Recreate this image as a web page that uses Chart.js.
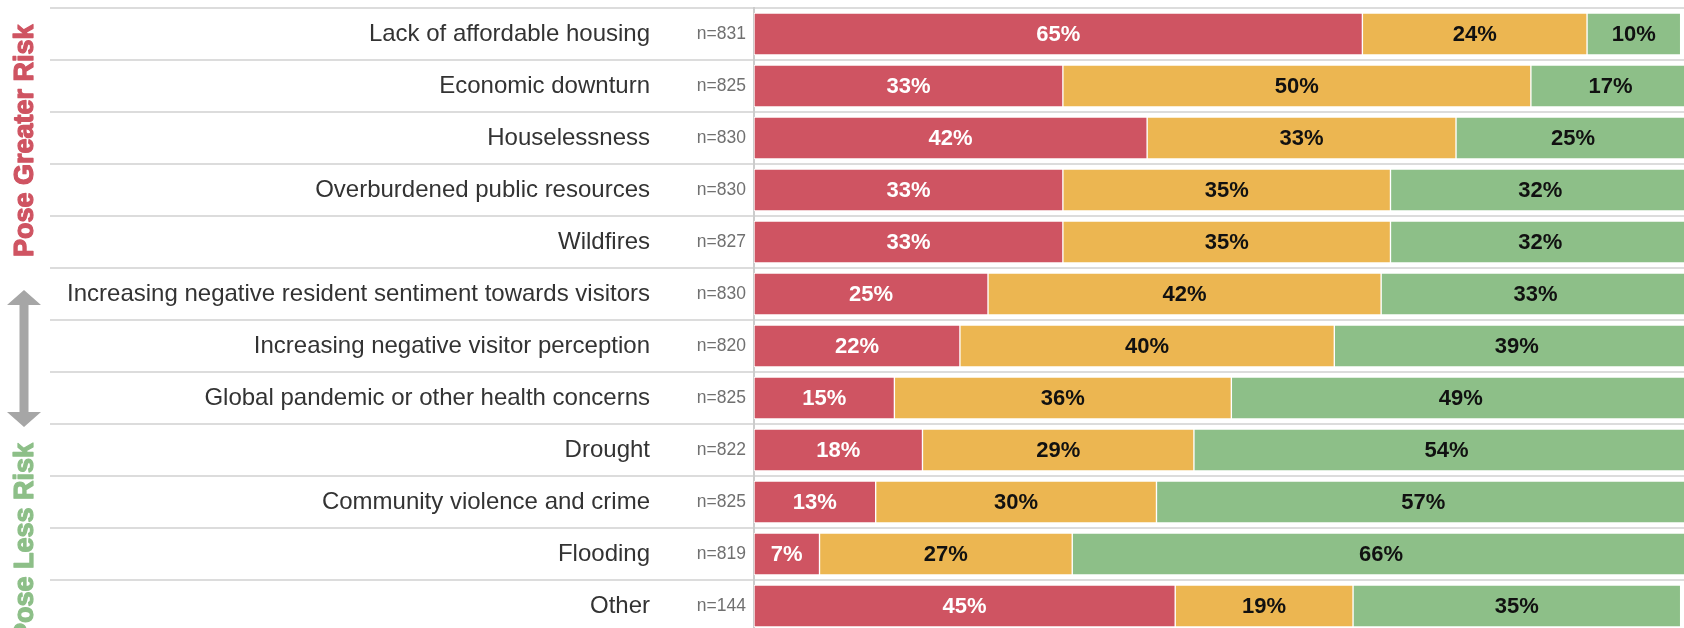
<!DOCTYPE html>
<html lang="en">
<head>
  <meta charset="UTF-8">
  <title>Perceived risks</title>
  <script src="https://cdn.jsdelivr.net/npm/chart.js"></script>
  <style>
    html, body { margin: 0; padding: 0; background: #fff; overflow: hidden; }
    .wrap { position: relative; width: 1690px; height: 632px; }
  </style>
</head>
<body>
  <div class="wrap"><canvas id="riskChart"></canvas></div>

  <script>
    // DATA
    const categories = [
      'Lack of affordable housing',
      'Economic downturn',
      'Houselessness',
      'Overburdened public resources',
      'Wildfires',
      'Increasing negative resident sentiment towards visitors',
      'Increasing negative visitor perception',
      'Global pandemic or other health concerns',
      'Drought',
      'Community violence and crime',
      'Flooding',
      'Other'
    ];
    const sampleSizes = ['n=831','n=825','n=830','n=830','n=827','n=830','n=820','n=825','n=822','n=825','n=819','n=144'];
    const greaterRisk = [65, 33, 42, 33, 33, 25, 22, 15, 18, 13, 7, 45];
    const neutral     = [24, 50, 33, 35, 35, 42, 40, 36, 29, 30, 27, 19];
    const lessRisk    = [10, 17, 25, 32, 32, 33, 39, 49, 54, 57, 66, 35];

    const RED = '#cf5462', YELLOW = '#ecb651', GREEN = '#8dbf88';
    const FONT = '"Liberation Sans", Arial, sans-serif';

    // row separators, drawn under the axis line
    const rowLines = {
      id: 'rowLines',
      beforeDraw(chart) {
        const y = chart.scales.y, ctx = chart.ctx;
        const step = y.getPixelForValue(1) - y.getPixelForValue(0);
        ctx.save();
        ctx.strokeStyle = '#dcdcdc';
        ctx.lineWidth = 2;
        for (let i = 0; i <= categories.length; i++) {
          const py = Math.round(y.getPixelForValue(i) - step / 2);
          ctx.beginPath();
          ctx.moveTo(50, py);
          ctx.lineTo(chart.chartArea.right, py);
          ctx.stroke();
        }
        ctx.restore();
      }
    };

    // percent labels in the middle of each segment
    const segmentLabels = {
      id: 'segmentLabels',
      afterDatasetsDraw(chart) {
        const ctx = chart.ctx;
        ctx.save();
        ctx.font = 'bold 22px ' + FONT;
        ctx.textAlign = 'center';
        ctx.textBaseline = 'middle';
        chart.data.datasets.forEach((ds, i) => {
          ctx.fillStyle = i === 0 ? '#ffffff' : '#111111';
          chart.getDatasetMeta(i).data.forEach((bar, j) => {
            const { x, base, y } = bar.getProps(['x', 'base', 'y'], true);
            ctx.fillText(ds.data[j] + '%', (x + base) / 2, y + 1);
          });
        });
        ctx.restore();
      }
    };

    // side note: greater / less risk with a double arrow
    const sideNote = {
      id: 'sideNote',
      afterDraw(chart) {
        const ctx = chart.ctx;
        ctx.save();
        ctx.font = 'bold 27px ' + FONT;
        ctx.textBaseline = 'alphabetic';
        ctx.lineWidth = 1.2;
        ctx.lineJoin = 'round';

        ctx.save();
        ctx.translate(33, 257);
        ctx.rotate(-Math.PI / 2);
        ctx.textAlign = 'left';
        ctx.fillStyle = ctx.strokeStyle = RED;
        ctx.fillText('Pose Greater Risk', 0, 0);
        ctx.strokeText('Pose Greater Risk', 0, 0);
        ctx.restore();

        ctx.save();
        ctx.translate(33, 443);
        ctx.rotate(-Math.PI / 2);
        ctx.textAlign = 'right';
        ctx.fillStyle = ctx.strokeStyle = GREEN;
        ctx.fillText('Pose Less Risk', 0, 0);
        ctx.strokeText('Pose Less Risk', 0, 0);
        ctx.restore();

        // arrow
        const cx = 24, top = 290, bottom = 427, head = 15, hw = 17, sw = 4.5;
        ctx.fillStyle = '#a6a6a6';
        ctx.beginPath();
        ctx.moveTo(cx, top);
        ctx.lineTo(cx + hw, top + head);
        ctx.lineTo(cx + sw, top + head);
        ctx.lineTo(cx + sw, bottom - head);
        ctx.lineTo(cx + hw, bottom - head);
        ctx.lineTo(cx, bottom);
        ctx.lineTo(cx - hw, bottom - head);
        ctx.lineTo(cx - sw, bottom - head);
        ctx.lineTo(cx - sw, top + head);
        ctx.lineTo(cx - hw, top + head);
        ctx.closePath();
        ctx.fill();
        ctx.restore();
      }
    };

    // fixed widths, no extra vertical padding from the tick labels
    const fitAxis = w => s => {
      s.width = w;
      s.paddingTop = 0;
      s.paddingBottom = 0;
    };

    new Chart(document.getElementById('riskChart'), {
      type: 'bar',
      data: {
        labels: categories,
        datasets: [
          { label: 'Greater risk', data: greaterRisk, backgroundColor: RED },
          { label: 'Neutral', data: neutral, backgroundColor: YELLOW },
          { label: 'Less risk', data: lessRisk, backgroundColor: GREEN }
        ]
      },
      options: {
        indexAxis: 'y',
        responsive: true,
        maintainAspectRatio: false,
        animation: false,
        datasets: {
          bar: {
            barThickness: 42,
            borderWidth: 1,
            borderColor: '#ffffff',
            borderSkipped: false
          }
        },
        layout: { padding: { top: 8, right: 0, bottom: 0, left: 0 } },
        plugins: { legend: { display: false }, tooltip: { enabled: false } },
        scales: {
          x: { stacked: true, min: 0, max: 100, display: false },
          y: {
            stacked: true,
            weight: 2,
            grid: { display: false, drawTicks: false },
            border: { display: false },
            ticks: { font: { family: FONT, size: 24 }, color: '#333333', padding: 4 },
            afterFit: fitAxis(654)
          },
          yn: {
            type: 'category',
            position: 'left',
            labels: sampleSizes,
            offset: true,
            weight: 1,
            grid: { display: false, drawTicks: false },
            border: { display: true, color: '#cccccc', width: 2 },
            ticks: { font: { family: FONT, size: 17.5 }, color: '#707070', padding: 8 },
            afterFit: fitAxis(100)
          }
        }
      },
      plugins: [rowLines, segmentLabels, sideNote]
    });
  </script>
</body>
</html>
